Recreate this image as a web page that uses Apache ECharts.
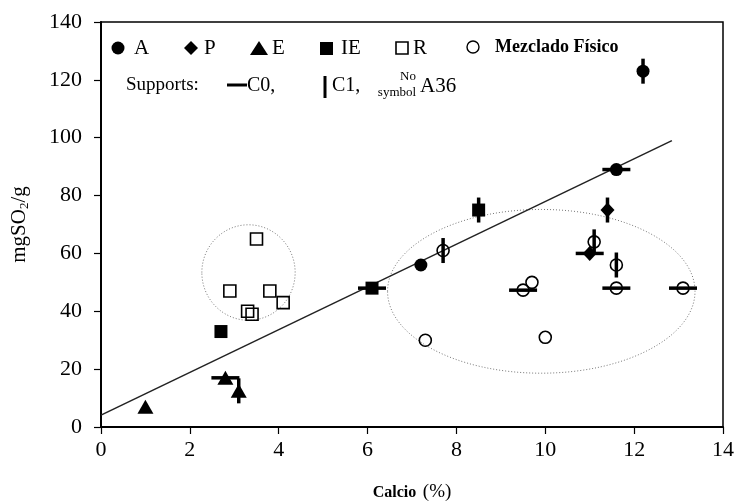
<!DOCTYPE html>
<html><head><meta charset="utf-8">
<script src="https://cdn.jsdelivr.net/npm/echarts@6/dist/echarts.min.js"></script>
<style>html,body{margin:0;padding:0;background:#fff}#c{width:738px;height:501px}</style>
</head><body><div id="c"></div>
<script>
// ---- data ----
const xTicks = [0, 2, 4, 6, 8, 10, 12, 14];
const yTicks = [0, 20, 40, 60, 80, 100, 120, 140];
const seriesA  = [[12.2, 123], [11.6, 89], [7.2, 56]];
const seriesP  = [[11.4, 75], [11.0, 60]];
const seriesE  = [[1.0, 7], [2.8, 17], [3.1, 12.5]];
const seriesIE = [[2.7, 33], [6.1, 48], [8.5, 75]];
const seriesR  = [[3.5, 65], [2.9, 47], [3.8, 47], [4.1, 43], [3.3, 40], [3.4, 39]];
const seriesMF = [[7.7, 61], [7.3, 30], [9.7, 50], [9.5, 47.3], [10.0, 31], [11.1, 64], [11.6, 56], [11.6, 48], [13.1, 48]];
const supportC0 = [[11.6, 89], [11.0, 60], [2.8, 17], [6.1, 48], [9.5, 47.3], [11.6, 48], [13.1, 48]];
const supportC1 = [[12.2, 123], [8.5, 75], [11.4, 75], [3.1, 12.5], [7.7, 61], [11.1, 64], [11.6, 56]];
const fitX = [0, 12.85];
const fitY = [4.1, 99];
// ellipses: [centerX, centerY, radiusX, radiusY] in data units
const groupEllipses = [[3.32, 53.4, 1.05, 16.5], [9.91, 46.9, 3.46, 28.3]];

const FONT = 'Liberation Serif';
const chart = echarts.init(document.getElementById('c'), null, {renderer: 'canvas'});
const K = '#000';
const txt = (x, y, s, size, bold) => ({type: 'text', x: x, y: y,
  style: {text: s, font: (bold ? 'bold ' : '') + size + 'px "' + FONT + '"', fill: K, verticalAlign: 'middle', align: 'left'}});
const solid = {color: K, opacity: 1};
const hollow = {color: 'transparent', borderColor: K, borderWidth: 1.6, opacity: 1};

const option = {
  backgroundColor: '#fff',
  animation: false,
  grid: {left: 101, right: 15, top: 22, bottom: 74, containLabel: false, outerBoundsMode: 'none',
         show: true, borderColor: K, borderWidth: 1.5, backgroundColor: 'transparent'},
  xAxis: {
    type: 'value', min: xTicks[0], max: xTicks[xTicks.length - 1], interval: 2,
    axisLine: {show: true, onZero: false, lineStyle: {color: K, width: 2}},
    axisTick: {show: true, inside: false, length: 7, lineStyle: {color: K, width: 1.2}},
    axisLabel: {color: K, fontFamily: FONT, fontSize: 22, margin: 12},
    splitLine: {show: false},
    name: '{b|Calcio}  {n|(%)}', nameLocation: 'middle', nameGap: 56,
    nameTextStyle: {rich: {b: {fontFamily: FONT, fontWeight: 'bold', fontSize: 16, color: K}, n: {fontFamily: FONT, fontSize: 19, color: K}}}
  },
  yAxis: {
    type: 'value', min: yTicks[0], max: yTicks[yTicks.length - 1], interval: 20,
    axisLine: {show: true, onZero: false, lineStyle: {color: K, width: 2}},
    axisTick: {show: true, inside: false, length: 7, lineStyle: {color: K, width: 1.2}},
    axisLabel: {color: K, fontFamily: FONT, fontSize: 22, margin: 19},
    splitLine: {show: false},
    name: 'mgSO{s|2}/g', nameLocation: 'middle', nameGap: 70, nameRotate: 90,
    nameTextStyle: {fontFamily: FONT, fontSize: 21, color: K, rich: {s: {fontFamily: FONT, fontSize: 13, color: K, padding: [10, 0, 0, 0]}}}
  },
  series: [
    {type: 'custom', z: 1, data: groupEllipses, encode: {x: 0, y: 1},
     renderItem: (params, api) => {
       const c = api.coord([api.value(0), api.value(1)]);
       const s = api.size([api.value(2), api.value(3)]);
       return {type: 'ellipse', shape: {cx: c[0], cy: c[1], rx: s[0], ry: s[1]},
               style: {fill: 'none', stroke: '#777', lineWidth: 1, lineDash: [1, 2]}};
     }},
    {type: 'line', z: 2, data: fitX.map((x, i) => [x, fitY[i]]), symbol: 'none',
     lineStyle: {color: '#222', width: 1.5}},
    {type: 'scatter', z: 3, data: supportC0, symbol: 'rect', symbolSize: [28, 3.5], itemStyle: solid},
    {type: 'scatter', z: 3, data: supportC1, symbol: 'rect', symbolSize: [3.5, 25], itemStyle: solid},
    {name: 'A', type: 'scatter', z: 4, data: seriesA, symbol: 'circle', symbolSize: 13, itemStyle: solid},
    {name: 'P', type: 'scatter', z: 4, data: seriesP, symbol: 'diamond', symbolSize: [14, 15], itemStyle: solid},
    {name: 'E', type: 'scatter', z: 4, data: seriesE, symbol: 'triangle', symbolSize: [16, 14], itemStyle: solid},
    {name: 'IE', type: 'scatter', z: 4, data: seriesIE, symbol: 'rect', symbolSize: 13, itemStyle: solid},
    {name: 'R', type: 'scatter', z: 4, data: seriesR, symbol: 'rect', symbolSize: 12, itemStyle: hollow},
    {name: 'Mezclado Físico', type: 'scatter', z: 4, data: seriesMF, symbol: 'circle', symbolSize: 12, itemStyle: hollow}
  ],
  graphic: [
    // row 1
    {type: 'circle', shape: {cx: 118, cy: 48, r: 6.5}, style: {fill: K}},
    txt(134, 48, 'A', 21),
    {type: 'polygon', shape: {points: [[191, 41], [198, 48], [191, 55], [184, 48]]}, style: {fill: K}},
    txt(204, 48, 'P', 21),
    {type: 'polygon', shape: {points: [[259, 41], [268, 55], [250, 55]]}, style: {fill: K}},
    txt(272, 48, 'E', 21),
    {type: 'rect', shape: {x: 320, y: 42, width: 13, height: 13}, style: {fill: K}},
    txt(341, 48, 'IE', 21),
    {type: 'rect', shape: {x: 396, y: 42, width: 12, height: 12}, style: {fill: 'none', stroke: K, lineWidth: 1.6}},
    txt(413, 48, 'R', 21),
    {type: 'circle', shape: {cx: 473, cy: 47, r: 6}, style: {fill: 'none', stroke: K, lineWidth: 1.4}},
    txt(495, 47, 'Mezclado Físico', 18, true),
    // row 2
    txt(126, 85, 'Supports:', 19),
    {type: 'line', shape: {x1: 227, y1: 85, x2: 247, y2: 85}, style: {stroke: K, lineWidth: 3}},
    txt(247, 86, 'C0,', 20),
    {type: 'line', shape: {x1: 325, y1: 76, x2: 325, y2: 98}, style: {stroke: K, lineWidth: 3}},
    txt(332, 86, 'C1,', 20),
    {type: 'text', x: 408, y: 77, style: {text: 'No', font: '13px "' + FONT + '"', fill: K, align: 'center', verticalAlign: 'middle'}},
    {type: 'text', x: 397, y: 93, style: {text: 'symbol', font: '13px "' + FONT + '"', fill: K, align: 'center', verticalAlign: 'middle'}},
    txt(420, 86, 'A36', 21)
  ]
};
chart.setOption(option);
</script>
</body></html>
